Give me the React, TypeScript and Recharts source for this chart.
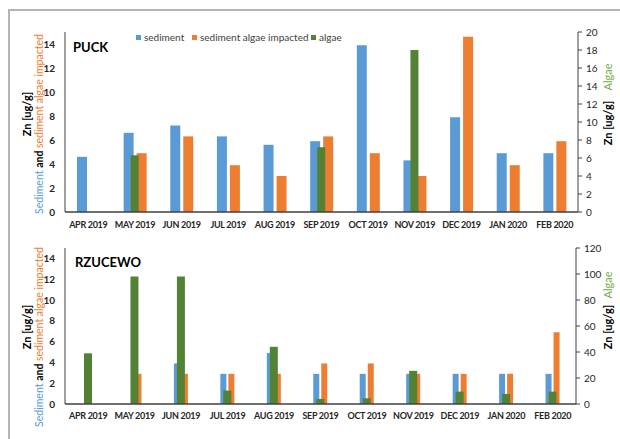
import React from 'react';
import { BarChart, Bar, XAxis, YAxis } from 'recharts';

const months = ['APR 2019', 'MAY 2019', 'JUN 2019', 'JUL 2019', 'AUG 2019', 'SEP 2019', 'OCT 2019', 'NOV 2019', 'DEC 2019', 'JAN 2020', 'FEB 2020'];

// PUCK, Zn [ug/g]
const puckSediment = [4.6, 6.6, 7.2, 6.3, 5.6, 5.9, 13.9, 4.3, 7.9, 4.9, 4.9];
const puckImpacted = [null, 4.9, 6.3, 3.9, 3.0, 6.3, 4.9, 3.0, 14.6, 3.9, 5.9];
const puckAlgae = [null, 6.3, null, null, null, 7.2, null, 18.0, null, null, null];

// RZUCEWO, Zn [ug/g]
const rzSediment = [null, null, 3.9, 2.9, 4.9, 2.9, 2.9, 2.9, 2.9, 2.9, 2.9];
const rzImpacted = [null, 2.9, 2.9, 2.9, 2.9, 3.9, 3.9, 2.9, 2.9, 2.9, 6.9];
const rzAlgae = [39, 98, 98, 10.3, 44, 3.9, 4.4, 25.5, 9.5, 7.7, 9.5];

const leftTicks = [0, 2, 4, 6, 8, 10, 12, 14];
const puckRightTicks = [0, 2, 4, 6, 8, 10, 12, 14, 16, 18, 20];
const rzRightTicks = [0, 20, 40, 60, 80, 100, 120];

const BLUE = '#5B9BD5';
const ORANGE = '#ED7D31';
const GREEN = '#548235';
const LIGHT_GREEN = '#70AD47';
const AXIS = '#404040';
const TEXT = '#262626';

const buildRows = (sed: (number | null)[], imp: (number | null)[], alg: (number | null)[]) =>
  months.map((m, i) => ({ month: m, sediment: sed[i], impacted: imp[i], algae: alg[i] }));

interface StationChartProps {
  rows: any[];
  rightTicks: number[];
  height: number;
  margin: { top: number; right: number; bottom: number; left: number };
  barSize: number;
  barGap: number;
  labelDy: number;
}

const StationChart: React.FC<StationChartProps> = ({ rows, rightTicks, height, margin, barSize, barGap, labelDy }) => {
  const MonthTick = (props: any) => {
    const { x, y, payload } = props;
    return (
      <text x={x} y={y} dy={labelDy} textAnchor="middle" fontSize={9} letterSpacing={-0.3} fontWeight="bold" fill={TEXT}>
        {payload.value}
      </text>
    );
  };

  return (
    <BarChart width={620} height={height} data={rows} margin={margin} barGap={barGap} barCategoryGap={0}>
      <XAxis
        xAxisId="main"
        dataKey="month"
        interval={0}
        tickLine={false}
        tickSize={0}
        tickMargin={0}
        height={20}
        stroke={AXIS}
        strokeWidth={1.5}
        tick={MonthTick}
      />
      {/* second category axis so the algae bars sit centred over the pair */}
      <XAxis xAxisId="alg" dataKey="month" orientation="top" height={0} hide />
      <YAxis
        yAxisId="left"
        domain={[0, 15]}
        ticks={leftTicks}
        width={25}
        tickLine={false}
        tickSize={0}
        tickMargin={10}
        stroke={AXIS}
        tick={{ fontSize: 10, fontWeight: 'bold', fill: TEXT }}
      />
      <YAxis
        yAxisId="right"
        orientation="right"
        domain={[0, rightTicks[rightTicks.length - 1]]}
        ticks={rightTicks}
        width={30}
        tickSize={4}
        tickMargin={4}
        stroke={AXIS}
        tick={{ fontSize: 10, fill: TEXT }}
      />
      <Bar xAxisId="main" yAxisId="left" dataKey="sediment" fill={BLUE} barSize={barSize} isAnimationActive={false} />
      <Bar xAxisId="main" yAxisId="left" dataKey="impacted" fill={ORANGE} barSize={barSize} isAnimationActive={false} />
      <Bar xAxisId="alg" yAxisId="right" dataKey="algae" fill={GREEN} barSize={8} isAnimationActive={false} />
    </BarChart>
  );
};

// rotated axis titles, drawn over the charts
const LeftTitle: React.FC<{ cy: number }> = ({ cy }) => (
  <>
    <text transform={`translate(26, ${cy - 10}) rotate(-90)`} textAnchor="middle" dominantBaseline="central" fontSize={11} fontWeight="bold" fill="#000">
      Zn [ug/g]
    </text>
    <text transform={`translate(39, ${cy}) rotate(-90)`} textAnchor="middle" dominantBaseline="central" fontSize={10.5}>
      <tspan fill={BLUE}>Sediment </tspan>
      <tspan fill="#000" fontWeight="bold">and </tspan>
      <tspan fill={ORANGE}>sediment algae impacted</tspan>
    </text>
  </>
);

const RightTitle: React.FC<{ zy: number; ay: number }> = ({ zy, ay }) => (
  <>
    <text transform={`translate(607, ${zy}) rotate(-90)`} textAnchor="middle" dominantBaseline="central" fontSize={11} fontWeight="bold" fill="#000">
      Zn [ug/g]
    </text>
    <text transform={`translate(607, ${ay}) rotate(-90)`} textAnchor="middle" dominantBaseline="central" fontSize={11} fill={LIGHT_GREEN}>
      Algae
    </text>
  </>
);

const legendItems = [
  { label: 'sediment', color: BLUE, x: 136 },
  { label: 'sediment algae impacted', color: ORANGE, x: 192 },
  { label: 'algae', color: GREEN, x: 311 },
];

export default function App() {
  return (
    <div style={{ position: 'absolute', left: 0, top: 0, width: 620, height: 439, background: '#fff', overflow: 'hidden', fontFamily: 'Lato, "Noto Sans", sans-serif' }}>
      <div style={{ position: 'absolute', left: 8, top: 9, width: 640, height: 460, borderTop: '2px solid #b4b4b4', borderLeft: '2px solid #b4b4b4' }} />
      <div style={{ position: 'absolute', left: 0, top: 0 }}>
        <StationChart
          rows={buildRows(puckSediment, puckImpacted, puckAlgae)}
          rightTicks={puckRightTicks}
          height={235}
          margin={{ top: 32, right: 12, bottom: 3, left: 40 }}
          barSize={10}
          barGap={3}
          labelDy={16}
        />
      </div>
      <div style={{ position: 'absolute', left: 0, top: 220 }}>
        <StationChart
          rows={buildRows(rzSediment, rzImpacted, rzAlgae)}
          rightTicks={rzRightTicks}
          height={215}
          margin={{ top: 28, right: 14, bottom: 11, left: 40 }}
          barSize={6}
          barGap={2}
          labelDy={15}
        />
      </div>
      <svg width={620} height={439} style={{ position: 'absolute', left: 0, top: 0, pointerEvents: 'none' }}>
        <text x={73} y={52} fontSize={13} fontWeight="bold" fill="#000">PUCK</text>
        <text x={75} y={267} fontSize={13} fontWeight="bold" fill="#000">RZUCEWO</text>
        <LeftTitle cy={124} />
        <LeftTitle cy={337} />
        <RightTitle zy={123} ay={77} />
        <RightTitle zy={327} ay={285} />
        {legendItems.map((item) => (
          <g key={item.label}>
            <rect x={item.x} y={35} width={5} height={5} fill={item.color} />
            <text x={item.x + 8} y={41} fontSize={10} fill={AXIS}>{item.label}</text>
          </g>
        ))}
      </svg>
    </div>
  );
}
